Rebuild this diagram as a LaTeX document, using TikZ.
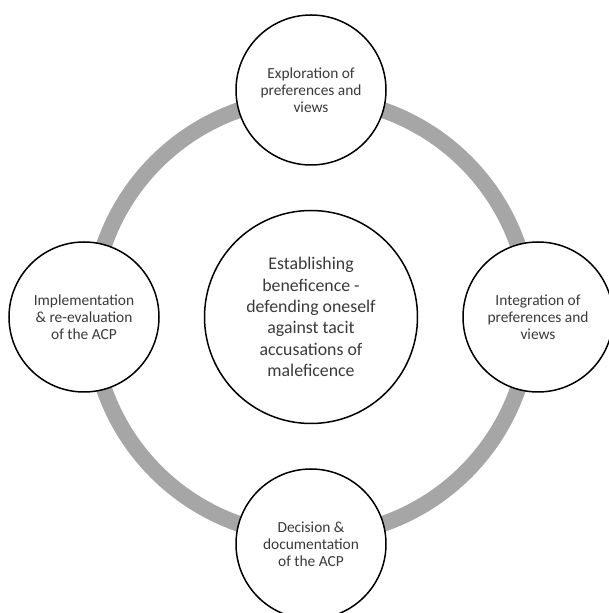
\documentclass[tikz,border=0pt]{standalone}
\usepackage{fontspec}
\setmainfont{Carlito}
\usepackage{xcolor}
\usepackage{tikz}
\usetikzlibrary{positioning,calc}
\definecolor{ringgray}{HTML}{A6A6A6}
\definecolor{textgray}{HTML}{3A3A3A}
\tikzset{
  every node/.style={text=textgray},
  loopring/.style={draw=ringgray,line width=16pt},
  phase/.style={circle,draw=black,fill=white,line width=1.5pt,minimum size=150pt,inner sep=0pt,align=center,font=\fontsize{15.4}{16.8}\selectfont},
  hub/.style={circle,draw=black,fill=white,line width=1.5pt,minimum size=213pt,inner sep=0pt,align=center,font=\fontsize{17.8}{21.3}\selectfont}
}
\begin{document}
\begin{tikzpicture}[x=1pt,y=1pt]
  \useasboundingbox (0,0) rectangle (608,613);
  \coordinate (mid) at (311,296);
  \draw[loopring] (mid) circle (219);
  \node[hub] (core) at (mid) {Establishing\\beneficence -\\defending oneself\\against tacit\\accusations of\\maleficence};
  \foreach \ang/\name/\txt in {90/explore/{Exploration of\\preferences and\\views},
                              0/integrate/{Integration of\\preferences and\\views},
                              270/decide/{Decision \&\\documentation\\of the ACP},
                              180/implement/{Implementation\\\& re-evaluation\\of the ACP}} {
    \node[phase] (\name) at ($(mid)+(\ang:227)$) {\txt};
  }
\end{tikzpicture}
\end{document}
